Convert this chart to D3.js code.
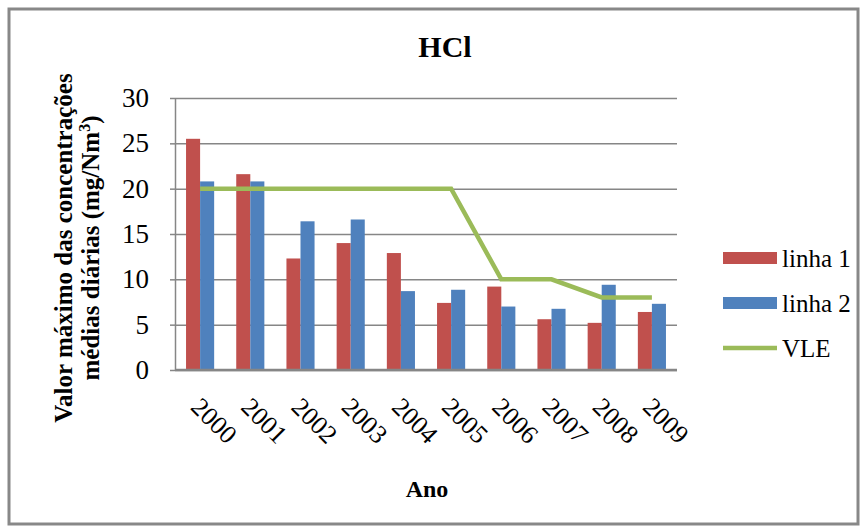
<!DOCTYPE html>
<html>
<head>
<meta charset="utf-8">
<script src="https://cdn.jsdelivr.net/npm/d3@7"></script>
<style>
  body { margin: 0; background: #fff; }
  svg, svg text { font-family: "Liberation Serif", "Times New Roman", Tinos, "DejaVu Serif", serif; }
</style>
</head>
<body>
<script>
// data
var years = ["2000","2001","2002","2003","2004","2005","2006","2007","2008","2009"];
var linha1 = [25.5, 21.6, 12.3, 14.0, 12.9, 7.4, 9.2, 5.6, 5.2, 6.4];
var linha2 = [20.8, 20.8, 16.4, 16.6, 8.7, 8.85, 7.0, 6.75, 9.4, 7.3];
var vle = [20, 20, 20, 20, 20, 20, 10, 10, 8, 8];
var yTicks = [0, 5, 10, 15, 20, 25, 30];
var seriesNames = ["linha 1", "linha 2", "VLE"];
var colors = {"linha 1": "#C0504D", "linha 2": "#4F81BD", "VLE": "#9BBB59"};

var W = 867, H = 532;
var pLeft = 175, pRight = 677, pTop = 98, pBottom = 370;

var svg = d3.select("body").append("svg")
    .attr("width", W)
    .attr("height", H);

// outer frame
svg.append("rect")
    .attr("x", 9).attr("y", 9)
    .attr("width", 849).attr("height", 515)
    .attr("fill", "#fff")
    .attr("stroke", "#888")
    .attr("stroke-width", 3);

var x = d3.scaleBand().domain(years).range([pLeft, pRight]).paddingInner(0.44).paddingOuter(0.22);
var xSub = d3.scaleBand().domain(["linha 1","linha 2"]).range([0, x.bandwidth()]);
var y = d3.scaleLinear().domain([0, 30]).range([pBottom, pTop]);

// gridlines
svg.append("g")
    .attr("class", "grid")
    .attr("transform", "translate(" + pLeft + ",0)")
    .call(d3.axisLeft(y).tickValues(yTicks).tickSize(-(pRight - pLeft)).tickFormat(""))
    .call(function(g){
      g.select(".domain").remove();
      g.selectAll("line").attr("stroke", "#868686").attr("stroke-width", 1.5);
    });

// y axis
svg.append("g")
    .attr("transform", "translate(" + pLeft + ",0)")
    .call(d3.axisLeft(y).tickValues(yTicks).tickSize(5).tickSizeOuter(0).tickPadding(21))
    .call(function(g){
      g.attr("font-family", null);
      g.select(".domain").attr("stroke", "#868686").attr("stroke-width", 1.5);
      g.selectAll("line").attr("stroke", "#868686").attr("stroke-width", 1.5);
      g.selectAll("text").attr("font-size", 27).attr("fill", "#000");
    });

// bars
var groups = svg.append("g").selectAll("g")
    .data(years)
    .enter().append("g")
    .attr("transform", function(d){ return "translate(" + x(d) + ",0)"; });

groups.selectAll("rect")
    .data(function(d, i){ return [{k:"linha 1", v:linha1[i]}, {k:"linha 2", v:linha2[i]}]; })
    .enter().append("rect")
    .attr("x", function(d){ return xSub(d.k); })
    .attr("y", function(d){ return y(d.v); })
    .attr("width", xSub.bandwidth())
    .attr("height", function(d){ return y(0) - y(d.v); })
    .attr("fill", function(d){ return colors[d.k]; });

// x axis line
svg.append("line")
    .attr("x1", pLeft).attr("x2", pRight)
    .attr("y1", y(0)).attr("y2", y(0))
    .attr("stroke", "#868686").attr("stroke-width", 2.5);

// VLE line
var line = d3.line()
    .x(function(d, i){ return x(years[i]) + x.bandwidth() / 2; })
    .y(function(d){ return y(d); });

svg.append("path")
    .attr("d", line(vle))
    .attr("fill", "none")
    .attr("stroke", colors["VLE"])
    .attr("stroke-width", 4.5);

// x tick labels, rotated
svg.append("g").selectAll("text")
    .data(years)
    .enter().append("text")
    .attr("transform", function(d){ return "translate(" + (x(d) + 10) + ",402) rotate(45)"; })
    .attr("font-size", 26)
    .attr("dy", "0.35em")
    .text(function(d){ return d; });

// title
svg.append("text")
    .attr("x", 445).attr("y", 57)
    .attr("text-anchor", "middle")
    .attr("font-size", 30)
    .attr("font-weight", "bold")
    .text("HCl");

// x axis title
svg.append("text")
    .attr("x", 427).attr("y", 497)
    .attr("text-anchor", "middle")
    .attr("font-size", 24)
    .attr("font-weight", "bold")
    .text("Ano");

// y axis title
var yt = svg.append("text")
    .attr("transform", "translate(72,248) rotate(-90)")
    .attr("text-anchor", "middle")
    .attr("font-size", 25)
    .attr("font-weight", "bold");
yt.append("tspan").attr("x", 0).attr("dy", 0).text("Valor máximo das concentrações");
yt.append("tspan").attr("x", 0).attr("dy", 27).text("médias diárias  (mg/Nm");
yt.append("tspan").attr("dy", -9).attr("font-size", 16).text("3");
yt.append("tspan").attr("dy", 9).text(")");

// legend
var legend = svg.append("g").selectAll("g")
    .data(seriesNames)
    .enter().append("g")
    .attr("transform", function(d, i){ return "translate(723," + (258 + i * 45) + ")"; });

legend.append("rect")
    .filter(function(d){ return d !== "VLE"; })
    .attr("x", 0).attr("y", -6)
    .attr("width", 54).attr("height", 12)
    .attr("fill", function(d){ return colors[d]; });

legend.filter(function(d){ return d === "VLE"; })
    .append("line")
    .attr("x1", 0).attr("x2", 54)
    .attr("y1", 0).attr("y2", 0)
    .attr("stroke", colors["VLE"])
    .attr("stroke-width", 4.5);

legend.append("text")
    .attr("x", 59)
    .attr("y", 9)
    .attr("font-size", 25)
    .text(function(d){ return d; });
</script>
</body>
</html>
